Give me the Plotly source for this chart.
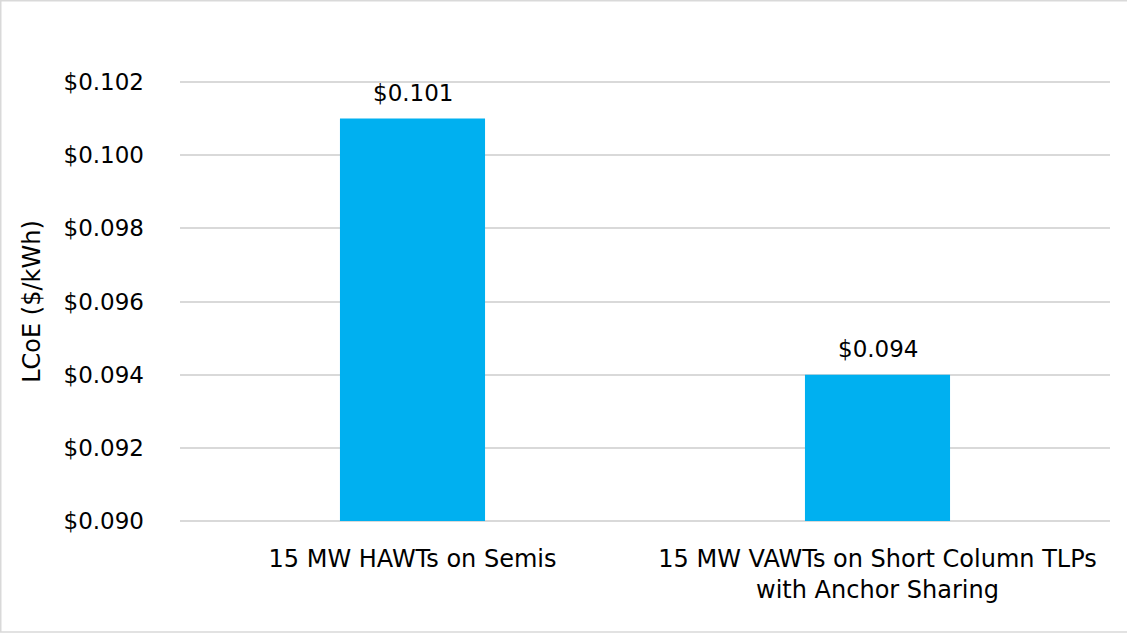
import plotly.graph_objects as go

categories = ["15 MW HAWTs on Semis", "15 MW VAWTs on Short Column TLPs<br>with Anchor Sharing"]
lcoe_values = [0.101, 0.094]
label_texts = ["$0.101", "$0.094"]
y_base = 0.090
y_tick_values = [0.090, 0.092, 0.094, 0.096, 0.098, 0.100, 0.102]
y_tick_labels = ["$0.090", "$0.092", "$0.094", "$0.096", "$0.098", "$0.100", "$0.102"]
y_title = "LCoE ($/kWh)"

W, H = 1127, 634
L, R, T, B = 180, 17, 79, 110
pw, ph = W - L - R, H - T - B

font = "DejaVu Sans"

fig = go.Figure()
fig.add_trace(go.Bar(
    x=categories, y=[v - y_base for v in lcoe_values], base=y_base,
    marker=dict(color="#00B0F0", line=dict(width=0)),
    hoverinfo="skip",
))

for c, v, t in zip(categories, lcoe_values, label_texts):
    fig.add_annotation(x=c, y=v, text=t, showarrow=False, yanchor="bottom",
                       yshift=11, font=dict(family=font, size=23, color="#000000"))

def px_to_paper_x(px):
    return (px - L) / pw

def py_to_paper_y(py):
    return (H - B - py) / ph

fig.add_shape(type="rect", xref="paper", yref="paper",
              x0=px_to_paper_x(0.75), x1=px_to_paper_x(W + 5),
              y0=py_to_paper_y(632), y1=py_to_paper_y(0.75),
              line=dict(color="#D9D9D9", width=1.5), fillcolor="rgba(0,0,0,0)", layer="below")

fig.update_layout(
    width=W, height=H,
    margin=dict(l=L, r=R, t=T, b=B, pad=0),
    paper_bgcolor="white", plot_bgcolor="white",
    bargap=0.688,
    showlegend=False,
    font=dict(family=font, color="#000000"),
    xaxis=dict(showgrid=False, showline=False, zeroline=False, ticks="",
               tickfont=dict(family=font, size=24, color="#000000"),
               ticklabelstandoff=18, fixedrange=True),
    yaxis=dict(range=[0.089918, 0.102082], tickvals=y_tick_values, ticktext=y_tick_labels,
               showgrid=True, gridcolor="#D9D9D9", gridwidth=1.5,
               zeroline=False, showline=False, ticks="",
               tickfont=dict(family=font, size=23, color="#000000"),
               ticklabelstandoff=35,
               title=dict(text=y_title, font=dict(family=font, size=24, color="#000000"), standoff=16),
               fixedrange=True),
)

fig.write_html("out.html", config={"displayModeBar": False},
               post_script="document.body.style.margin='0';document.body.style.overflow='hidden';")
